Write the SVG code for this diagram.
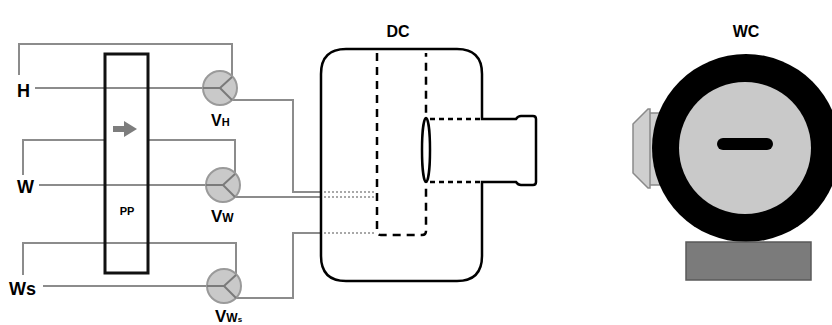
<svg xmlns="http://www.w3.org/2000/svg" width="832" height="325" viewBox="0 0 832 325">
  <style>
    .wire { fill: none; stroke: #8c8c8c; stroke-width: 2; }
    .dot { fill: none; stroke: #8c8c8c; stroke-width: 1.6; stroke-dasharray: 2 2; }
    .valve { fill: #c9c9c9; stroke: #9a9a9a; stroke-width: 2; }
    .spoke { fill: none; stroke: #7a7a7a; stroke-width: 2; }
    .lbl { font-family: "Liberation Sans", Arial, sans-serif; font-weight: bold; fill: #000; }
    .ink { fill: none; stroke: #000; stroke-width: 2.5; }
    .dash { fill: none; stroke: #000; stroke-width: 2.5; stroke-dasharray: 8 6; }
    .dashdot { fill: none; stroke: #000; stroke-width: 2.5; stroke-dasharray: 5 4; }
  </style>
  <rect width="832" height="325" fill="#fff"/>

  <!-- connectors -->
  <g id="connectors">
    <!-- H supply loop -->
    <polyline class="wire" points="19,75 19,44 232,44 232,77"/>
    <line class="wire" x1="35" y1="88" x2="220" y2="88"/>
    <polyline class="wire" points="232,100 293,100 293,192 320,192"/>
    <line class="dot" x1="320" y1="192" x2="376" y2="192"/>
    <!-- W supply loop -->
    <polyline class="wire" points="23,175 23,140 105,140"/>
    <polyline class="wire" points="148,140 235,140 235,174"/>
    <line class="wire" x1="39" y1="185" x2="223" y2="185"/>
    <polyline class="wire" points="235,197 320,197"/>
    <line class="dot" x1="320" y1="197" x2="376" y2="197"/>
    <!-- Ws supply loop -->
    <polyline class="wire" points="23,275 23,243 236,243 236,275"/>
    <line class="wire" x1="43" y1="286" x2="224" y2="286"/>
    <polyline class="wire" points="236,298 293,298 293,233 320,233"/>
    <line class="dot" x1="320" y1="233" x2="376" y2="233"/>
  </g>

  <!-- pump -->
  <g id="pp">
    <rect x="105" y="54" width="43" height="219" fill="none" stroke="#111" stroke-width="3"/>
    <polygon points="113,126 124,126 124,121 137,129 124,137 124,132 113,132" fill="#7d7d7d"/>
    <text class="lbl" x="127" y="215" font-size="11" text-anchor="middle">PP</text>
  </g>

  <!-- valves -->
  <g id="valve-h">
    <circle class="valve" cx="220" cy="88" r="17"/>
    <polyline class="spoke" points="203,88 220,88 232,77"/>
    <line class="spoke" x1="220" y1="88" x2="232" y2="100"/>
    <text class="lbl" x="211" y="126" font-size="16">V<tspan font-size="11">H</tspan></text>
  </g>
  <g id="valve-w">
    <circle class="valve" cx="223" cy="185" r="17"/>
    <polyline class="spoke" points="206,185 223,185 235,174"/>
    <line class="spoke" x1="223" y1="185" x2="235" y2="197"/>
    <text class="lbl" x="211" y="222" font-size="17">V<tspan font-size="12">W</tspan></text>
  </g>
  <g id="valve-ws">
    <circle class="valve" cx="224" cy="286" r="17"/>
    <polyline class="spoke" points="207,286 224,286 236,275"/>
    <line class="spoke" x1="224" y1="286" x2="236" y2="298"/>
    <text class="lbl" x="215" y="322" font-size="17">V<tspan font-size="12">W</tspan><tspan font-size="8">s</tspan></text>
  </g>

  <!-- inlet labels -->
  <g id="inlets">
    <text class="lbl" x="17" y="97" font-size="18">H</text>
    <text class="lbl" x="17" y="193" font-size="18">W</text>
    <text class="lbl" x="9" y="295" font-size="18">Ws</text>
  </g>

  <!-- DC chamber -->
  <g id="dc">
    <text class="lbl" x="398" y="37" font-size="16" text-anchor="middle">DC</text>
    <path class="ink" d="M346,49 H457 Q482,49 482,74 V119 H516 Q518,116 521,116 H533 Q536,116 536,119 V182 Q536,185 533,185 H521 Q518,185 516,182 H482 V256 Q482,281 457,281 H346 Q321,281 321,256 V74 Q321,49 346,49 Z" fill="#fff"/>
    <!-- inner dashed sleeve -->
    <path class="dash" d="M377,53 V231 Q377,235 381,235 H422 Q426,235 426,231 V53"/>
    <!-- window and beam path -->
    <ellipse cx="426" cy="150" rx="4" ry="32" fill="#fff" stroke="#000" stroke-width="2.5"/>
    <line class="dashdot" x1="430" y1="119" x2="482" y2="119"/>
    <line class="dashdot" x1="430" y1="182" x2="482" y2="182"/>
  </g>

  <!-- WC -->
  <g id="wc">
    <text class="lbl" x="746" y="37" font-size="16" text-anchor="middle">WC</text>
    <rect x="648" y="113" width="18" height="72" fill="#cfcfcf" stroke="#8a8a8a" stroke-width="1.5"/>
    <polygon points="633,124 648,109 650,109 650,188 648,188 633,173" fill="#cfcfcf" stroke="#8a8a8a" stroke-width="1.5"/>
    <circle cx="746" cy="148" r="94" fill="#000"/>
    <circle cx="745" cy="148" r="66" fill="#c9c9c9"/>
    <rect x="717" y="138" width="56" height="12" rx="6" fill="#000"/>
    <rect x="686" y="242" width="125" height="38" fill="#7b7b7b" stroke="#5a5a5a" stroke-width="1.5"/>
  </g>
</svg>
